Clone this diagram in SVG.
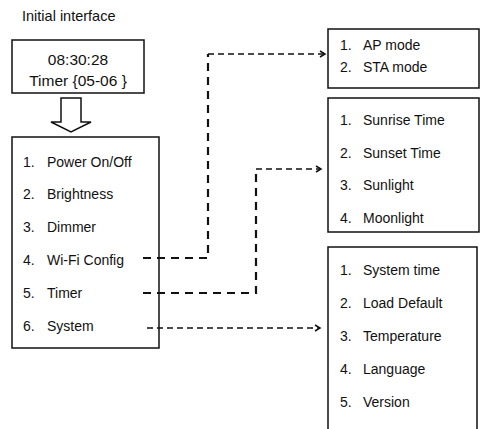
<svg xmlns="http://www.w3.org/2000/svg" width="480" height="429" viewBox="0 0 480 429">
<style>
text{font-family:"Liberation Sans",Arial,sans-serif;font-size:14px;fill:#111}
.box{fill:#fff;stroke:#111;stroke-width:1.5}
.c{fill:none;stroke:#111}
.thick{stroke-width:2.2;stroke-dasharray:8 6}
.thin{stroke-width:1.5;stroke-dasharray:6 4}
</style>
<defs>
<marker id="ah" markerWidth="10" markerHeight="10" refX="7" refY="5" orient="auto" markerUnits="userSpaceOnUse">
<polyline points="2,2 7,5 2,8" fill="none" stroke="#111" stroke-width="1.5"/>
</marker>
</defs>
<rect width="480" height="429" fill="#fff"/>
<text x="22" y="21" style="font-size:14.5px">Initial interface</text>
<g id="start">
<rect class="box" x="12" y="40" width="132" height="53"/>
<text x="78" y="65" text-anchor="middle" style="font-size:15.5px">08:30:28</text>
<text x="78" y="86" text-anchor="middle" style="font-size:15.5px">Timer {05-06 }</text>
</g>
<g id="down-arrow">
<polygon points="61,98 81,98 81,122 91,122 71,132 51,122 61,122" fill="#fff" stroke="#111" stroke-width="1.5"/>
</g>
<g id="menu">
<rect class="box" x="12" y="137" width="147" height="211"/>
<text x="23" y="167">1.</text><text x="47" y="167">Power On/Off</text>
<text x="23" y="199">2.</text><text x="47" y="199">Brightness</text>
<text x="23" y="232">3.</text><text x="47" y="232">Dimmer</text>
<text x="23" y="265">4.</text><text x="47" y="265">Wi-Fi Config</text>
<text x="23" y="298">5.</text><text x="47" y="298">Timer</text>
<text x="23" y="331">6.</text><text x="47" y="331">System</text>
</g>
<g id="wifi">
<rect class="box" x="328" y="29" width="151" height="59"/>
<text x="340" y="50">1.</text><text x="363" y="50">AP mode</text>
<text x="340" y="72">2.</text><text x="363" y="72">STA mode</text>
</g>
<g id="timer">
<rect class="box" x="328" y="98" width="151" height="134"/>
<text x="340" y="125">1.</text><text x="363" y="125">Sunrise Time</text>
<text x="340" y="158">2.</text><text x="363" y="158">Sunset Time</text>
<text x="340" y="190">3.</text><text x="363" y="190">Sunlight</text>
<text x="340" y="223">4.</text><text x="363" y="223">Moonlight</text>
</g>
<g id="system">
<rect class="box" x="328" y="247" width="149" height="183"/>
<text x="340" y="275">1.</text><text x="363" y="275">System time</text>
<text x="340" y="308">2.</text><text x="363" y="308">Load Default</text>
<text x="340" y="341">3.</text><text x="363" y="341">Temperature</text>
<text x="340" y="374">4.</text><text x="363" y="374">Language</text>
<text x="340" y="407">5.</text><text x="363" y="407">Version</text>
</g>
<g id="connectors">
<polyline class="c thick" points="143,258 208,258 208,54"/>
<polyline class="c thin" points="208,54 325,54" marker-end="url(#ah)"/>
<polyline class="c thick" points="143,293 256,293 256,169"/>
<polyline class="c thin" points="256,169 321,169" marker-end="url(#ah)"/>
<polyline class="c thin" points="147,328 320,328" marker-end="url(#ah)"/>
</g>
</svg>
